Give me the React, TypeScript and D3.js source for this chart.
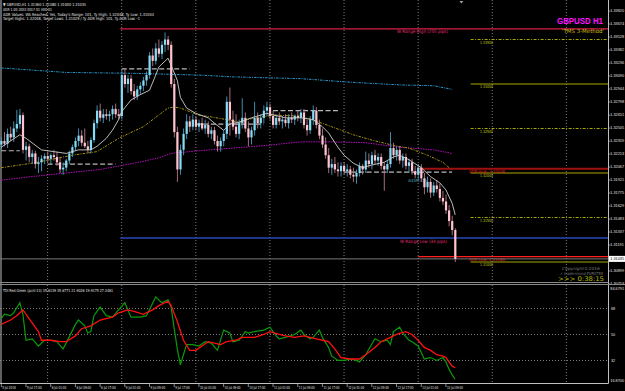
import React from 'react';
import * as d3 from 'd3';

// ---------- DATA ----------
// H1 candles [open, high, low, close], bar 0 = 5 Jul 09:00
const candles: [number, number, number, number][] = [
  [1.3232,1.3240,1.3226,1.3236],[1.3236,1.3246,1.3230,1.3233],[1.3233,1.3250,1.3228,1.3244],[1.3244,1.3252,1.3236,1.3240],
  [1.3240,1.3258,1.3235,1.3250],[1.3250,1.3271,1.3246,1.3255],[1.3255,1.3272,1.3250,1.3265],[1.3265,1.3268,1.3222,1.3226],
  [1.3226,1.3235,1.3214,1.3230],[1.3230,1.3233,1.3212,1.3218],[1.3218,1.3226,1.3210,1.3222],[1.3222,1.3225,1.3205,1.3210],
  [1.3210,1.3218,1.3200,1.3212],[1.3212,1.3220,1.3202,1.3216],[1.3216,1.3222,1.3210,1.3219],[1.3219,1.3224,1.3212,1.3216],
  [1.3216,1.3222,1.3210,1.3220],[1.3220,1.3226,1.3214,1.3218],[1.3218,1.3224,1.3208,1.3212],[1.3212,1.3218,1.3200,1.3204],
  [1.3204,1.3212,1.3198,1.3206],[1.3206,1.3216,1.3202,1.3214],[1.3214,1.3225,1.3210,1.3222],[1.3222,1.3232,1.3218,1.3229],
  [1.3229,1.3240,1.3225,1.3236],[1.3236,1.3250,1.3230,1.3242],[1.3242,1.3248,1.3230,1.3234],[1.3234,1.3250,1.3228,1.3230],
  [1.3230,1.3236,1.3222,1.3226],[1.3226,1.3240,1.3222,1.3237],[1.3237,1.3260,1.3234,1.3256],[1.3256,1.3276,1.3250,1.3270],
  [1.3270,1.3278,1.3258,1.3262],[1.3262,1.3272,1.3256,1.3266],[1.3266,1.3272,1.3260,1.3264],[1.3264,1.3270,1.3258,1.3266],
  [1.3266,1.3276,1.3260,1.3272],[1.3272,1.3278,1.3262,1.3266],[1.3266,1.3272,1.3260,1.3264],[1.3264,1.3316,1.3260,1.3310],
  [1.3310,1.3318,1.3296,1.3300],[1.3300,1.3310,1.3290,1.3306],[1.3306,1.3310,1.3288,1.3292],[1.3292,1.3300,1.3282,1.3286],
  [1.3286,1.3298,1.3282,1.3294],[1.3294,1.3302,1.3288,1.3298],[1.3298,1.3308,1.3292,1.3304],[1.3304,1.3314,1.3298,1.3310],
  [1.3310,1.3336,1.3306,1.3332],[1.3332,1.3340,1.3320,1.3326],[1.3326,1.3346,1.3322,1.3340],[1.3340,1.3350,1.3330,1.3334],
  [1.3334,1.3348,1.3328,1.3344],[1.3344,1.3358,1.3336,1.3350],[1.3350,1.3354,1.3338,1.3344],[1.3344,1.3348,1.3296,1.3300],
  [1.3300,1.3306,1.3240,1.3246],[1.3246,1.3252,1.3190,1.3204],[1.3204,1.3232,1.3198,1.3226],[1.3226,1.3250,1.3220,1.3244],
  [1.3244,1.3266,1.3238,1.3258],[1.3258,1.3264,1.3246,1.3252],[1.3252,1.3266,1.3248,1.3260],[1.3260,1.3264,1.3248,1.3252],
  [1.3252,1.3260,1.3246,1.3256],[1.3256,1.3262,1.3248,1.3250],[1.3250,1.3260,1.3244,1.3254],[1.3254,1.3258,1.3240,1.3244],
  [1.3244,1.3252,1.3238,1.3248],[1.3248,1.3252,1.3232,1.3236],[1.3236,1.3242,1.3224,1.3230],[1.3230,1.3240,1.3224,1.3236],
  [1.3236,1.3248,1.3230,1.3244],[1.3244,1.3286,1.3238,1.3280],[1.3280,1.3296,1.3242,1.3260],[1.3260,1.3270,1.3248,1.3252],
  [1.3252,1.3266,1.3240,1.3244],[1.3244,1.3260,1.3238,1.3256],[1.3256,1.3284,1.3250,1.3262],[1.3262,1.3268,1.3246,1.3250],
  [1.3250,1.3258,1.3230,1.3240],[1.3240,1.3252,1.3232,1.3248],[1.3248,1.3280,1.3242,1.3262],[1.3262,1.3268,1.3250,1.3256],
  [1.3256,1.3266,1.3250,1.3262],[1.3262,1.3276,1.3256,1.3270],[1.3270,1.3280,1.3264,1.3274],[1.3274,1.3278,1.3260,1.3264],
  [1.3264,1.3270,1.3250,1.3254],[1.3254,1.3266,1.3250,1.3262],[1.3262,1.3268,1.3254,1.3258],[1.3258,1.3264,1.3250,1.3260],
  [1.3260,1.3266,1.3252,1.3256],[1.3256,1.3266,1.3250,1.3262],[1.3262,1.3268,1.3256,1.3260],[1.3260,1.3266,1.3254,1.3264],
  [1.3264,1.3270,1.3258,1.3262],[1.3262,1.3272,1.3256,1.3268],[1.3268,1.3272,1.3250,1.3254],[1.3254,1.3260,1.3242,1.3248],
  [1.3248,1.3264,1.3244,1.3260],[1.3260,1.3276,1.3254,1.3270],[1.3270,1.3274,1.3250,1.3254],[1.3254,1.3260,1.3238,1.3242],
  [1.3242,1.3250,1.3228,1.3232],[1.3232,1.3240,1.3216,1.3220],[1.3220,1.3228,1.3200,1.3206],[1.3206,1.3216,1.3198,1.3210],
  [1.3210,1.3218,1.3200,1.3204],[1.3204,1.3212,1.3196,1.3202],[1.3202,1.3212,1.3196,1.3208],[1.3208,1.3212,1.3198,1.3202],
  [1.3202,1.3210,1.3196,1.3204],[1.3204,1.3208,1.3194,1.3198],[1.3198,1.3206,1.3190,1.3196],[1.3196,1.3204,1.3188,1.3200],
  [1.3200,1.3212,1.3196,1.3208],[1.3208,1.3210,1.3198,1.3204],[1.3204,1.3224,1.3200,1.3214],[1.3214,1.3222,1.3206,1.3210],
  [1.3210,1.3224,1.3204,1.3220],[1.3220,1.3226,1.3210,1.3214],[1.3214,1.3222,1.3208,1.3218],[1.3218,1.3222,1.3204,1.3208],
  [1.3208,1.3212,1.3180,1.3204],[1.3204,1.3214,1.3200,1.3210],[1.3210,1.3246,1.3206,1.3228],[1.3228,1.3234,1.3216,1.3220],
  [1.3220,1.3230,1.3214,1.3226],[1.3226,1.3230,1.3210,1.3214],[1.3214,1.3222,1.3206,1.3218],[1.3218,1.3222,1.3204,1.3208],
  [1.3208,1.3216,1.3200,1.3212],[1.3212,1.3216,1.3198,1.3202],[1.3202,1.3208,1.3194,1.3198],[1.3198,1.3210,1.3192,1.3206],
  [1.3206,1.3210,1.3190,1.3194],[1.3194,1.3200,1.3176,1.3184],[1.3184,1.3196,1.3178,1.3190],[1.3190,1.3194,1.3172,1.3178],
  [1.3178,1.3190,1.3174,1.3186],[1.3186,1.3192,1.3178,1.3182],[1.3182,1.3188,1.3168,1.3172],[1.3172,1.3180,1.3164,1.3168],
  [1.3168,1.3176,1.3154,1.3158],[1.3158,1.3164,1.3140,1.3146],[1.3146,1.3152,1.3130,1.3136],[1.3136,1.3138,1.3100,1.31035],
];

// Moving averages [bar, price]
const fastMA: [number, number][] = [
  [0,1.3229],[6,1.3243],[8,1.3239],[13,1.3226],[17,1.3224],[21,1.3222],[25,1.3226],[29,1.3226],[31,1.3230],[34,1.3239],
  [36,1.3248],[38,1.3260],[39,1.3269],[42,1.3282],[45,1.3288],[48,1.3293],[50,1.3310],[51,1.3319],[54,1.3329],[55,1.3321],
  [57,1.3304],[58,1.3285],[60,1.3273],[63,1.3267],[67,1.3262],[69,1.3256],[72,1.3248],[74,1.3255],[77,1.3257],[81,1.3262],
  [86,1.3267],[92,1.3262],[97,1.3262],[101,1.3260],[104,1.3252],[106,1.3245],[109,1.3229],[111,1.3220],[114,1.3211],
  [117,1.3206],[120,1.3209],[124,1.3212],[127,1.3218],[129,1.3220],[132,1.3215],[136,1.3206],[139,1.3196],[142,1.3189],
  [144,1.3181],[146,1.3166],[147,1.3153],
];
const midMA: [number, number][] = [
  [0,1.3206],[10,1.3211],[23,1.3220],[31,1.3224],[38,1.3239],[46,1.3252],[54,1.3273],[56,1.3274],[58,1.3273],[64,1.3265],
  [68,1.3263],[73,1.3260],[77,1.3257],[81,1.3261],[88,1.3265],[97,1.3264],[103,1.3257],[107,1.3252],[114,1.3243],
  [120,1.3237],[127,1.3231],[132,1.3228],[138,1.3220],[143,1.3212],[146,1.3203],
];
const slowMA: [number, number][] = [
  [0,1.3192],[10,1.3196],[21,1.3200],[32,1.3204],[43,1.3211],[51,1.3217],[55,1.3222],[64,1.3225],[75,1.3228],[86,1.3231],
  [97,1.3235],[107,1.3235],[118,1.3234],[129,1.3229],[140,1.3226],[146,1.3222],
];
const longMA: [number, number][] = [
  [0,1.3318],[21,1.3313],[43,1.3312],[64,1.3310],[75,1.3308],[97,1.3306],[113,1.3302],[129,1.3299],[140,1.3298],[146,1.3294],
];

// Daily reference segments [startBar, endBar, price]
const dayLevels: [number, number, number][] = [
  [0,6,1.3225],[15,37,1.3210],[39,61,1.3317],[63,85,1.3255],[88,109,1.3270],[111,146,1.3201],
];

// Round-number levels
const roundLevels = [1.335, 1.330, 1.325, 1.320, 1.315, 1.310];
const roundLevelStartBar = 152;
const weekRangeHigh = 1.3362;
const weekRangeLow = 1.3127;
const weekStartBar = 38.5;
const adrHigh = 1.32048;
const adrLow = 1.3106;
const adrStartBar = 135;
const bidPrice = 1.31035;

// Price axis tick labels
const priceTicks = [1.3382,1.33674,1.33528,1.33382,1.33236,1.3309,1.32944,1.32798,1.32651,1.32505,1.32359,1.32213,
  1.32067,1.31921,1.31775,1.31629,1.31483,1.31337,1.31191,1.30899,1.30753];

// Time axis
const timeLabelBars = [0,8,16,24,32,40,48,56,64,72,80,88,96,104,112,120,128,136,144];
const timeLabels = ['5 Jul 2018','5 Jul 17:00','6 Jul 01:00','6 Jul 09:00','6 Jul 17:00','9 Jul 01:00','9 Jul 09:00',
  '9 Jul 17:00','10 Jul 01:00','10 Jul 09:00','10 Jul 17:00','11 Jul 01:00','11 Jul 09:00','11 Jul 17:00','12 Jul 01:00',
  '12 Jul 09:00','12 Jul 17:00','13 Jul 01:00','13 Jul 09:00'];
const dayStartBars = [15,39,63,87,111,135,159,183];

// TDI indicator [bar, value]
const tdiGreen: [number, number][] = [
  [0,61],[1,64],[3,63],[4,65],[6,72],[7,64],[8,46],[10,47],[12,42],[14,46],[16,46],[18,45],[20,40],[21,44],[24,57],[25,60],
  [27,56],[28,51],[29,52],[30,63],[32,69],[34,63],[36,62],[38,67],[40,72],[41,67],[42,62],[45,62],[47,63],[50,76],[52,72],
  [54,74],[55,69],[56,54],[57,40],[58,29],[60,43],[62,43],[64,42],[66,45],[68,44],[70,39],[72,53],[74,51],[75,45],[77,46],
  [79,52],[80,51],[82,52],[85,53],[87,55],[89,49],[90,47],[92,48],[95,50],[97,53],[98,50],[100,47],[101,48],[103,53],[104,48],
  [106,41],[107,35],[109,32],[111,32],[113,33],[115,32],[116,31],[118,36],[121,47],[123,45],[125,46],[126,43],[127,52],
  [129,55],[130,51],[132,46],[133,45],[135,42],[137,33],[139,34],[141,32],[143,34],[144,31],[145,26],[146,22],[147,19],
];
const tdiRed: [number, number][] = [
  [0,57],[3,60],[5,63],[7,67],[9,61],[10,58],[12,52],[13,46],[16,46],[19,45],[21,45],[24,49],[26,54],[29,56],[32,60],[36,62],
  [38,65],[41,67],[43,66],[46,64],[49,67],[51,70],[54,73],[55,70],[57,59],[59,46],[61,39],[63,39],[65,42],[67,45],[69,44],
  [71,43],[73,45],[76,46],[78,48],[80,48],[82,48],[85,50],[87,52],[90,50],[92,49],[95,48],[98,49],[100,48],[102,47],[104,46],
  [106,45],[108,40],[110,34],[113,33],[116,33],[118,36],[121,41],[123,45],[126,48],[128,50],[131,52],[133,50],[135,46],
  [137,41],[139,39],[141,36],[143,35],[144,34],[146,28],[147,27],
];
const tdiLevels = [68, 50, 32];
const tdiMax = 84.6791;
const tdiMin = 16.87;

const headerLines = [
  '\u25BC GBPUSD,H1  1.31360 1.31380 1.31000 1.31035',
  'ADR 1.00 2003 0017 01 H00 01',
  "ADR Values: Wk Reached: Yes, Today's Range: 101, Ty High: 1.32048, Ty Low: 1.31044",
  'Target Highs: 1.32048, Target Lows: 1.31029 / Ty ADR High: 101, Ty ADR Low: -1',
];
const tdiTitle = 'TDI Red Green (pcnt:13) 35.6139 35.6771 21.9026 19.9175 27.3461';

// ---------- CHART ----------
const FONT = 'DejaVu Sans, sans-serif';
const AXFONT = 'Liberation Sans, Arial, sans-serif';

export default function App() {
  const x = d3.scaleLinear().domain([0, 147]).range([1.3, 455.2]);
  const y = d3.scaleLinear().domain([1.31, 1.335]).range([262, 39.5]);
  const yi = d3.scaleLinear().domain([tdiMin, tdiMax]).range([382.3, 284.4]);
  const AX = 608.5;
  const fmt5 = d3.format('.5f');

  const priceLine = d3.line<[number, number]>().x(d => x(d[0])).y(d => y(d[1]));
  const indLine = d3.line<[number, number]>().x(d => x(d[0])).y(d => yi(d[1]));

  const bidY = y(bidPrice);

  return (
    <div style={{ position: 'absolute', left: 0, top: 0, width: 625, height: 391, background: '#000' }}>
      <svg width={625} height={391} style={{ display: 'block', background: '#000' }} fontFamily={FONT}>
        <rect x={0} y={0} width={625} height={391} fill="#000" />
        {/* frame */}
        <line x1={1} x2={1} y1={0} y2={383} stroke="#606060" strokeWidth={2} />
        {/* vertical grid */}
        {dayStartBars.map(b => (
          <g key={'vg' + b}>
            <line x1={x(b)} x2={x(b)} y1={0} y2={282} stroke="#a0a0a0" strokeWidth={0.8} strokeDasharray="1,2" />
            <line x1={x(b)} x2={x(b)} y1={285} y2={383} stroke="#a0a0a0" strokeWidth={0.8} strokeDasharray="1,2" />
          </g>
        ))}
        {/* chart shift marker */}
        <path d={`M${x(149) - 2},1 L${x(149) + 2},1 L${x(149)},3.5 Z`} fill="#a0a0a0" />

        {/* header */}
        {headerLines.map((t, i) => (
          <text key={'h' + i} x={3} y={6.3 + i * 4.7} fontSize={4.2} fill="#e8e8e8"
            textLength={[83, 49, 151, 137][i]} lengthAdjust="spacingAndGlyphs">{t}</text>
        ))}

        {/* long MA */}
        <path d={priceLine(longMA) || ''} fill="none" stroke="#2a96c8" strokeWidth={1} strokeDasharray="2.5,1,1,1" />
        {/* slow MA */}
        <path d={priceLine(slowMA) || ''} fill="none" stroke="#b010b8" strokeWidth={1} strokeDasharray="1.5,1" />
        {/* mid MA */}
        <path d={priceLine(midMA) || ''} fill="none" stroke="#a89410" strokeWidth={1} strokeDasharray="2.5,1.2,1,1.2" />

        {/* day levels */}
        {dayLevels.map((d, i) => (
          <line key={'dl' + i} x1={x(d[0])} x2={x(d[1])} y1={y(d[2])} y2={y(d[2])} stroke="#b8b8b8" strokeWidth={1.2} strokeDasharray="5,2.5" />
        ))}

        {/* week range lines */}
        <line x1={x(weekStartBar)} x2={AX} y1={y(weekRangeHigh)} y2={y(weekRangeHigh)} stroke="#d81e4a" strokeWidth={1.2} />
        <line x1={x(weekStartBar)} x2={AX} y1={y(weekRangeLow)} y2={y(weekRangeLow)} stroke="#2848b8" strokeWidth={1.4} />
        <text x={448} y={y(weekRangeHigh) + 4.6} fontSize={4.4} fill="#e0306e" textAnchor="end" textLength={51} lengthAdjust="spacingAndGlyphs">W Range High (255 pips)</text>
        <text x={447} y={y(weekRangeLow) + 5.4} fontSize={4.4} fill="#e0306e" textAnchor="end" textLength={47} lengthAdjust="spacingAndGlyphs">W Range Low (33 pips)</text>

        {/* round levels */}
        {roundLevels.map((lv, i) => (
          <g key={'rl' + i}>
            <line x1={x(roundLevelStartBar)} x2={AX} y1={y(lv)} y2={y(lv)} stroke="#a8a800" strokeWidth={1}
              strokeDasharray={i % 2 === 0 ? '3,1.5,1,1.5' : undefined} />
            <text x={480} y={y(lv) + 4.2} fontSize={4} fill="#c8c820" textLength={13} lengthAdjust="spacingAndGlyphs">{fmt5(lv)}</text>
          </g>
        ))}

        {/* ADR lines */}
        <line x1={x(adrStartBar)} x2={AX} y1={y(adrHigh)} y2={y(adrHigh)} stroke="#a01010" strokeWidth={2} />
        <text x={469} y={y(adrHigh) + 3.8} fontSize={4} fill="#e02020" textLength={36} lengthAdjust="spacingAndGlyphs">{'ADR High: ' + fmt5(adrHigh)}</text>
        <line x1={x(adrStartBar)} x2={AX} y1={y(adrLow)} y2={y(adrLow)} stroke="#ff2020" strokeWidth={1.3} />
        <text x={469} y={y(adrLow) + 4.2} fontSize={4} fill="#e02020" textLength={36} lengthAdjust="spacingAndGlyphs">{'ADR Low: ' + fmt5(adrLow)}</text>
        {/* bid line */}
        <line x1={0} x2={AX} y1={bidY} y2={bidY} stroke="#787878" strokeWidth={1} />

        <text x={408} y={182} fontSize={4.2} fill="#4aa0b4" textLength={20} lengthAdjust="spacingAndGlyphs">ADR:Ctr</text>

        {/* candles */}
        {candles.map((c, i) => {
          const [o, h, l, cl] = c;
          const up = cl >= o;
          const cx = x(i);
          const top = y(Math.max(o, cl));
          const bot = y(Math.min(o, cl));
          return (
            <g key={'c' + i}>
              <line x1={cx + 0.1} x2={cx + 0.1} y1={y(h)} y2={y(l)} stroke={up ? '#4a9cc0' : '#b87888'} strokeWidth={0.9} />
              <rect x={cx - 1} y={top} width={2.2} height={Math.max(0.9, bot - top)} fill={up ? '#86dcf6' : '#ffc4cf'} />
            </g>
          );
        })}

        {/* fast MA */}
        <path d={priceLine(fastMA) || ''} fill="none" stroke="#cfcfcf" strokeWidth={0.9} />

        {/* titles */}
        <text x={603} y={24} fontSize={9} fontWeight="bold" fill="#ff10ff" textAnchor="end" textLength={46} lengthAdjust="spacingAndGlyphs" fontFamily="Liberation Sans, Arial, sans-serif">GBPUSD H1</text>
        <text x={604} y={32.5} fontSize={5.5} fill="#d8b810" textAnchor="end" textLength={42} lengthAdjust="spacingAndGlyphs">'TMS 3-Method'</text>

        {/* copyright and timer */}
        <text x={562} y={269.5} fontSize={4} fill="#7a7a7a" fontStyle="italic" textLength={38} lengthAdjust="spacingAndGlyphs">Copyright©2016</text>
        <text x={560} y={274.5} fontSize={4} fill="#7a7a7a" fontStyle="italic" textLength={43} lengthAdjust="spacingAndGlyphs">✓ tradersmind EUR0758</text>
        <text x={558} y={281} fontSize={6.5} fill="#b8b800" textLength={46} lengthAdjust="spacingAndGlyphs">{'>>>  0:38:15'}</text>

        {/* price axis */}
        <line x1={AX} x2={AX} y1={0} y2={383.5} stroke="#c0c0c0" strokeWidth={1} />
        {priceTicks.filter(p => Math.abs(y(p) - bidY) > 7).map(p => (
          <g key={'pt' + p}>
            <line x1={AX} x2={AX + 2} y1={y(p)} y2={y(p)} stroke="#c0c0c0" strokeWidth={0.7} />
            <text x={610.3} y={y(p) + 1.2} fontSize={3.8} fill="#e0e0e0" fontFamily={AXFONT}>{fmt5(p)}</text>
          </g>
        ))}
        <rect x={AX + 0.5} y={bidY - 3} width={16} height={6} fill="#ffffff" />
        <text x={610.3} y={bidY + 1.4} fontSize={3.8} fill="#000" fontFamily={AXFONT}>{fmt5(bidPrice)}</text>

        {/* separator */}
        <line x1={0} x2={AX} y1={282.5} y2={282.5} stroke="#8a8a8a" strokeWidth={1} />
        <line x1={0} x2={625} y1={284.5} y2={284.5} stroke="#8a8a8a" strokeWidth={1} />

        {/* indicator panel */}
        {tdiLevels.map(lv => (
          <g key={'il' + lv}>
            <line x1={0} x2={AX} y1={yi(lv)} y2={yi(lv)} stroke="#a0a0a0" strokeWidth={0.8} strokeDasharray="1,2" />
            <text x={611} y={yi(lv) + 1.4} fontSize={3.8} fill="#e0e0e0" fontFamily={AXFONT}>{lv}</text>
          </g>
        ))}
        <text x={610.3} y={289.8} fontSize={3.8} fill="#e0e0e0" fontFamily={AXFONT}>{tdiMax.toFixed(4)}</text>
        <text x={610.3} y={381.5} fontSize={3.8} fill="#e0e0e0" fontFamily={AXFONT}>{tdiMin.toFixed(4)}</text>
        <text x={3} y={291.5} fontSize={4} fill="#e8e8e8" textLength={110} lengthAdjust="spacingAndGlyphs">{tdiTitle}</text>
        <path d={indLine(tdiGreen) || ''} fill="none" stroke="#0a9a0a" strokeWidth={1.2} />
        <path d={indLine(tdiRed) || ''} fill="none" stroke="#ff1010" strokeWidth={1.3} />

        {/* time axis */}
        <line x1={0} x2={AX} y1={383.5} y2={383.5} stroke="#c0c0c0" strokeWidth={1} />
        {timeLabelBars.map((b, i) => (
          <g key={'tl' + b}>
            <line x1={x(b)} x2={x(b)} y1={383.5} y2={387} stroke="#c0c0c0" strokeWidth={0.7} />
            <text x={x(b) + 1} y={388.5} fontSize={4} fill="#e0e0e0" textLength={timeLabels[i].length * 1.33} lengthAdjust="spacingAndGlyphs">{timeLabels[i]}</text>
          </g>
        ))}
      </svg>
    </div>
  );
}
